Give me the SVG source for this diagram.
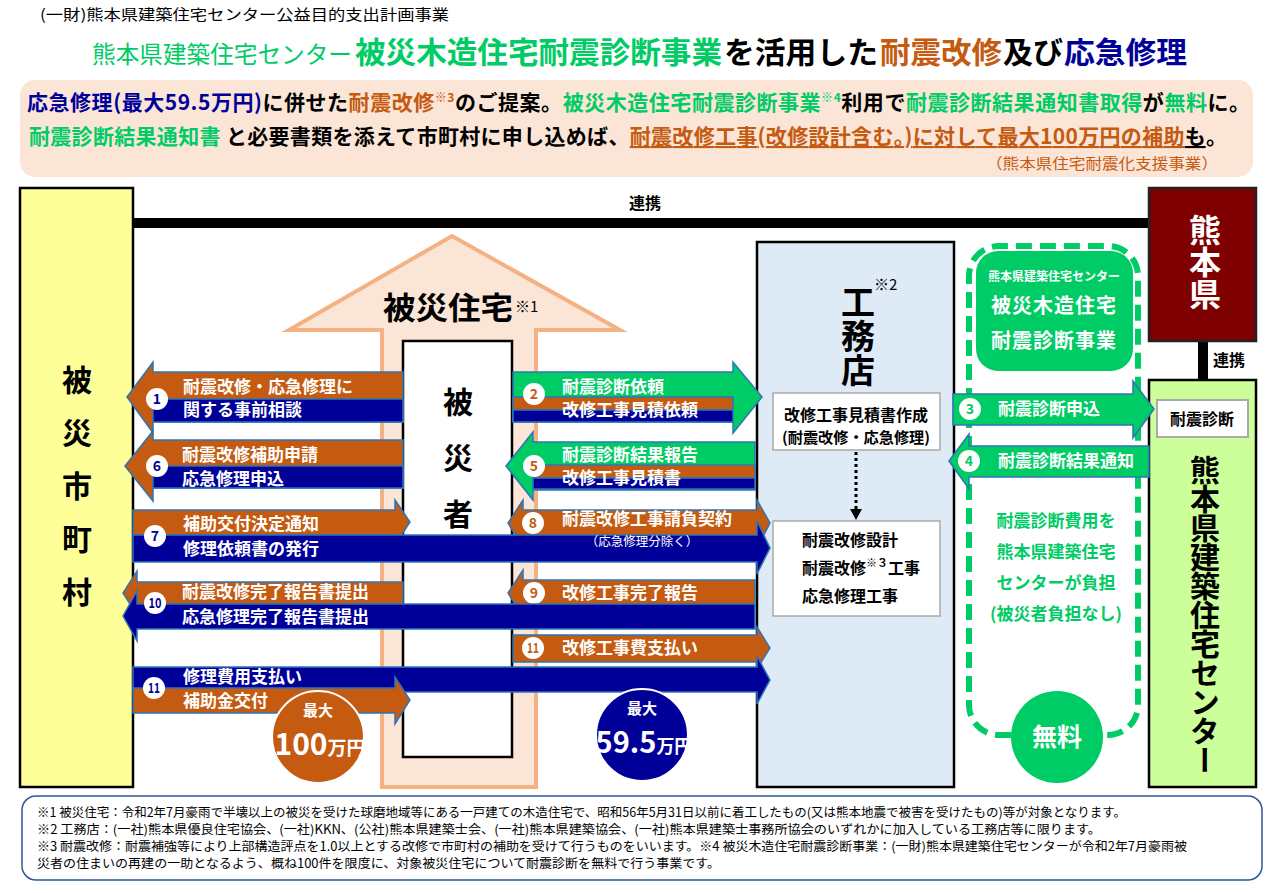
<svg xmlns="http://www.w3.org/2000/svg" width="1280" height="893" viewBox="0 0 1280 893">
<style>
text{font-family:"Noto Sans CJK JP","Noto Sans",sans-serif;}
.b{font-weight:bold;}
.w{fill:#fff;}
.at{fill:#fff;font-size:17px;font-weight:bold;}
.ao{fill:#c55a11;stroke:#2e75b6;stroke-width:1.5;}
.ab{fill:#000099;stroke:#2e75b6;stroke-width:1.5;}
.ag{fill:#00cc66;stroke:#2e75b6;stroke-width:1.5;}
.nc{fill:#fff;}
.nt{font-size:14px;font-weight:bold;text-anchor:middle;}
.vt{writing-mode:vertical-rl;font-weight:bold;}
.gr{fill:#00cc66;}
.or{fill:#c55a11;}
.nv{fill:#000099;}
.fn{font-size:12.5px;fill:#000;}
.gt{fill:#00cc66;font-size:17px;font-weight:bold;text-anchor:middle;}
</style>

<!-- header -->
<g id="header">
<text x="40" y="20" font-size="15" textLength="409" lengthAdjust="spacingAndGlyphs">(一財)熊本県建築住宅センター公益目的支出計画事業</text>
<text y="63">
<tspan x="92" font-size="24" class="gr" textLength="260" lengthAdjust="spacingAndGlyphs">熊本県建築住宅センター</tspan><tspan x="355" font-size="30" class="gr b" textLength="367" lengthAdjust="spacingAndGlyphs">被災木造住宅耐震診断事業</tspan><tspan x="724" font-size="30" fill="#000" class="b" textLength="154" lengthAdjust="spacingAndGlyphs">を活用した</tspan><tspan x="880" font-size="30" class="or b" textLength="122" lengthAdjust="spacingAndGlyphs">耐震改修</tspan><tspan x="1003" font-size="30" fill="#000" class="b" textLength="60" lengthAdjust="spacingAndGlyphs">及び</tspan><tspan x="1064" font-size="30" class="nv b" textLength="123" lengthAdjust="spacingAndGlyphs">応急修理</tspan>
</text>
</g>

<g id="summary">
<rect x="20" y="80" width="1233" height="97" rx="15" fill="#fbe5d6"/>
<text x="27" y="110" font-size="21" class="b" textLength="1223" lengthAdjust="spacing"><tspan class="nv">応急修理(最大59.5万円)</tspan><tspan fill="#000">に併せた</tspan><tspan class="or">耐震改修</tspan><tspan class="or" font-size="12" dy="-8">※3</tspan><tspan fill="#000" dy="8">のご提案。</tspan><tspan class="gr">被災木造住宅耐震診断事業</tspan><tspan class="gr" font-size="12" dy="-8">※4</tspan><tspan fill="#000" dy="8">利用で</tspan><tspan class="gr">耐震診断結果通知書取得</tspan><tspan fill="#000">が</tspan><tspan class="gr">無料</tspan><tspan fill="#000">に。</tspan></text>
<text x="29" y="144" font-size="21" class="b" textLength="1198" lengthAdjust="spacing"><tspan class="gr">耐震診断結果通知書 </tspan><tspan fill="#000">と必要書類を添えて市町村に申し込めば、</tspan><tspan class="or" text-decoration="underline">耐震改修工事(改修設計含む。)に対して最大100万円の補助</tspan><tspan fill="#000" text-decoration="underline">も</tspan><tspan fill="#000">。</tspan></text>
<text x="1218" y="169" font-size="15" class="or" text-anchor="end" textLength="232" lengthAdjust="spacingAndGlyphs">（熊本県住宅耐震化支援事業）</text>
</g>

<!-- 連携 line -->
<g id="connectors-top">
<rect x="133" y="218" width="1016" height="10" fill="#000"/>
<text x="645" y="209" font-size="16" class="b" text-anchor="middle">連携</text>
<rect x="1198" y="341" width="10" height="39" fill="#000"/>
<text x="1213" y="366" font-size="16" class="b">連携</text>
</g>

<g id="node-shichoson">
<rect x="20" y="188" width="113" height="599" fill="#ffff99" stroke="#000" stroke-width="2.5"/>
<text x="77" y="365" font-size="30" class="vt" letter-spacing="23">被災市町村</text>
</g>

<g id="node-kumamoto">
<rect x="1149" y="188" width="107" height="153" fill="#7f0000" stroke="#222" stroke-width="2.5"/>
<text x="1205" y="214" font-size="32" class="vt w">熊本県</text>
</g>

<g id="node-center">
<rect x="1149" y="380" width="107" height="407" fill="#ccff99" stroke="#000" stroke-width="2.5"/>
<rect x="1157" y="400" width="91" height="37" fill="#fff" stroke="#aaa" stroke-width="2"/>
<text x="1202" y="425" font-size="16" class="b" text-anchor="middle">耐震診断</text>
<text x="1205" y="455" font-size="30" class="vt" letter-spacing="-1">熊本県建築住宅センター</text>
</g>

<g id="node-koumuten">
<rect x="757" y="242" width="197" height="545" fill="#deebf7" stroke="#000" stroke-width="2.5"/>
<text x="858" y="285" font-size="34" class="vt">工務店</text>
<text x="874" y="290" font-size="15">※2</text>
<rect x="773" y="393" width="167" height="57" fill="#fff" stroke="#aaa" stroke-width="1.5"/>
<text x="856" y="421" font-size="16" class="b" text-anchor="middle">改修工事見積書作成</text>
<text x="856" y="443" font-size="15" class="b" text-anchor="middle" textLength="148" lengthAdjust="spacingAndGlyphs">(耐震改修・応急修理)</text>
<line x1="856" y1="452" x2="856" y2="509" stroke="#000" stroke-width="3" stroke-dasharray="3 3"/>
<polygon points="850,509 862,509 856,520" fill="#000"/>
<rect x="773" y="521" width="167" height="95" fill="#fff" stroke="#aaa" stroke-width="1.5"/>
<text x="802" y="546" font-size="16" class="b">耐震改修設計</text>
<text x="802" y="574" font-size="16" class="b">耐震改修<tspan font-size="11" dy="-7">※３</tspan><tspan dy="7">工事</tspan></text>
<text x="802" y="602" font-size="16" class="b">応急修理工事</text>
</g>

<g id="node-shindan">
<path d="M1011,735 L999,735 A30,30 0 0 1 969,705 L969,276 A30,30 0 0 1 999,246 L1108,246 A30,30 0 0 1 1138,276 L1138,705 A30,30 0 0 1 1108,735 L1103,735" fill="none" stroke="#00cc66" stroke-width="6" stroke-dasharray="16 8"/>
<rect x="976" y="251" width="157" height="120" rx="22" fill="#00cc66"/>
<text x="1054" y="281" font-size="12" class="b w" text-anchor="middle">熊本県建築住宅センター</text>
<text x="1054" y="313" font-size="20" class="b w" text-anchor="middle" letter-spacing="1">被災木造住宅</text>
<text x="1054" y="348" font-size="20" class="b w" text-anchor="middle" letter-spacing="1">耐震診断事業</text>
<text x="1056" y="527" class="gt">耐震診断費用を</text>
<text x="1056" y="558" class="gt">熊本県建築住宅</text>
<text x="1056" y="589" class="gt">センターが負担</text>
<text x="1056" y="620" class="gt">(被災者負担なし)</text>
<circle cx="1057" cy="737" r="46" fill="#00cc66"/>
<text x="1057" y="746" font-size="25" class="b w" text-anchor="middle">無料</text>
</g>

<g id="node-house">
<polygon points="382,787 382,330 289,330 452,236 620,330 536,330 536,787" fill="#fbe5d6" stroke="#f4b183" stroke-width="4"/>
<text x="383" y="319" font-size="31" class="b" textLength="130" lengthAdjust="spacingAndGlyphs">被災住宅</text>
<text x="515" y="312" font-size="15">※1</text>
</g>

<g id="node-hisaisha">
<rect x="403" y="341" width="109" height="416" fill="#fff" stroke="#000" stroke-width="2.5"/>
<text x="458" y="387" font-size="30" class="vt" letter-spacing="26">被災者</text>
</g>

<g id="connectors">
<!-- 1 -->
<polygon class="ao" points="403,372 153,372 153,362 127,397 153,433 153,422 403,422"/>
<rect class="ab" x="153" y="399" width="250" height="23"/>
<text class="at" x="183" y="393">耐震改修・応急修理に</text>
<text class="at" x="183" y="416">関する事前相談</text>
<circle class="nc" cx="157" cy="399" r="11"/><text class="nt nv" x="157" y="404">1</text>
<!-- 6 -->
<polygon class="ao" points="403,440 153,440 153,431 125,466 153,501 153,488 403,488"/>
<rect class="ab" x="153" y="466" width="250" height="22"/>
<text class="at" x="182" y="461">耐震改修補助申請</text>
<text class="at" x="182" y="485">応急修理申込</text>
<circle class="nc" cx="157" cy="466" r="11"/><text class="nt nv" x="157" y="471">6</text>
<!-- 2 -->
<polygon class="ag" points="513,372 733,372 733,362 762,397 733,433 733,422 513,422"/>
<rect class="ao" x="513" y="397" width="220" height="13"/>
<rect class="ab" x="513" y="410" width="220" height="12"/>
<text class="at" x="562" y="393">耐震診断依頼</text>
<text class="at" x="562" y="416">改修工事見積依頼</text>
<circle class="nc" cx="534" cy="394" r="11"/><text class="nt or" x="534" y="399">2</text>
<!-- 5 -->
<polygon class="ag" points="755,442 533,442 533,432 506,466 533,500 533,490 755,490"/>
<rect class="ao" x="533" y="465" width="222" height="13"/>
<rect class="ab" x="533" y="478" width="222" height="11"/>
<text class="at" x="562" y="461">耐震診断結果報告</text>
<text class="at" x="562" y="484">改修工事見積書</text>
<circle class="nc" cx="534" cy="466" r="11"/><text class="nt or" x="534" y="471">5</text>
<!-- 3 -->
<polygon class="ag" points="953,394 1133,394 1133,381 1154,409 1133,438 1133,425 953,425"/>
<text class="at" x="998" y="415">耐震診断申込</text>
<circle class="nc" cx="970" cy="409" r="11"/><text class="nt gr" x="970" y="414">3</text>
<!-- 4 -->
<polygon class="ag" points="1149,446 969,446 969,434 949,461 969,489 969,477 1149,477"/>
<text class="at" x="998" y="467">耐震診断結果通知</text>
<circle class="nc" cx="969" cy="461" r="11"/><text class="nt gr" x="969" y="466">4</text>
<!-- 7 orange -->
<polygon class="ao" points="133,510 395,510 395,500 410,522 395,545 395,535 133,535"/>
<!-- 8 -->
<polygon class="ao" points="523,500 523,510 757,510 757,500 770,523 757,548 757,537 523,537 523,548 508,523"/>
<!-- 7 blue -->
<polygon class="ab" points="133,535 757,535 757,521 770,548 757,574 757,562 133,562"/>
<text class="at" x="183" y="530">補助交付決定通知</text>
<text class="at" x="183" y="555">修理依頼書の発行</text>
<circle class="nc" cx="155" cy="536" r="11"/><text class="nt nv" x="155" y="541">7</text>
<text class="at" x="562" y="525">耐震改修工事請負契約</text>
<text x="642" y="546" font-size="12.5" class="w" text-anchor="middle">（応急修理分除く）</text>
<circle class="nc" cx="533" cy="523" r="11"/><text class="nt or" x="533" y="528">8</text>
<!-- 9 -->
<polygon class="ao" points="755,580 523,580 523,570 508,593 523,617 523,606 755,606"/>
<text class="at" x="562" y="599">改修工事完了報告</text>
<circle class="nc" cx="534" cy="593" r="11"/><text class="nt or" x="534" y="598">9</text>
<!-- 10 -->
<polygon class="ao" points="403,582 137,582 137,571 123,593 137,615 137,604 403,604"/>
<polygon class="ab" points="755,604 137,604 137,591 123,616 137,641 137,629 755,629"/>
<text class="at" x="182" y="598">耐震改修完了報告書提出</text>
<text class="at" x="182" y="623">応急修理完了報告書提出</text>
<circle class="nc" cx="155" cy="603" r="11"/><text class="nt nv" x="155" y="608" font-size="12" textLength="13" lengthAdjust="spacingAndGlyphs">10</text>
<!-- 11 right -->
<polygon class="ao" points="513,635 757,635 757,627 770,648 757,669 757,662 513,662"/>
<text class="at" x="562" y="654">改修工事費支払い</text>
<circle class="nc" cx="533" cy="648" r="11"/><text class="nt or" x="533" y="653" font-size="12" textLength="12" lengthAdjust="spacingAndGlyphs">11</text>
<!-- 11 left -->
<polygon class="ab" points="133,667 757,667 757,656 770,680 757,704 757,692 133,692"/>
<polygon class="ao" points="133,688 395,688 395,677 410,700 395,724 395,713 133,713"/>
<text class="at" x="183" y="683">修理費用支払い</text>
<text class="at" x="183" y="707">補助金交付</text>
<circle class="nc" cx="154" cy="688" r="11"/><text class="nt nv" x="154" y="693" font-size="12" textLength="12" lengthAdjust="spacingAndGlyphs">11</text>
</g>

<g id="badge-100">
<circle cx="318" cy="737" r="46" fill="#c55a11" stroke="#fff" stroke-width="2"/>
<text x="318" y="716" font-size="15" class="b w" text-anchor="middle">最大</text>
<text x="320" y="755" class="b w" text-anchor="middle"><tspan font-size="30">100</tspan><tspan font-size="19">万円</tspan></text>
</g>
<g id="badge-59">
<circle cx="642" cy="735" r="46" fill="#000099" stroke="#fff" stroke-width="2"/>
<text x="642" y="714" font-size="15" class="b w" text-anchor="middle">最大</text>
<text x="644" y="753" class="b w" text-anchor="middle"><tspan font-size="29">59.5</tspan><tspan font-size="18">万円</tspan></text>
</g>

<g id="footnotes">
<rect x="22" y="796" width="1240" height="84" rx="14" fill="#fff" stroke="#2f5597" stroke-width="1.5"/>
<text class="fn" x="37" y="817" textLength="1089" lengthAdjust="spacingAndGlyphs">※1 被災住宅：令和2年7月豪雨で半壊以上の被災を受けた球磨地域等にある一戸建ての木造住宅で、昭和56年5月31日以前に着工したもの(又は熊本地震で被害を受けたもの)等が対象となります。</text>
<text class="fn" x="37" y="834" textLength="1064" lengthAdjust="spacingAndGlyphs">※2 工務店：(一社)熊本県優良住宅協会、(一社)KKN、(公社)熊本県建築士会、(一社)熊本県建築協会、(一社)熊本県建築士事務所協会のいずれかに加入している工務店等に限ります。</text>
<text class="fn" x="37" y="851" textLength="1150" lengthAdjust="spacingAndGlyphs">※3 耐震改修：耐震補強等により上部構造評点を1.0以上とする改修で市町村の補助を受けて行うものをいいます。※4 被災木造住宅耐震診断事業：(一財)熊本県建築住宅センターが令和2年7月豪雨被</text>
<text class="fn" x="37" y="868" textLength="683" lengthAdjust="spacingAndGlyphs">災者の住まいの再建の一助となるよう、概ね100件を限度に、対象被災住宅について耐震診断を無料で行う事業です。</text>
</g>
</svg>
